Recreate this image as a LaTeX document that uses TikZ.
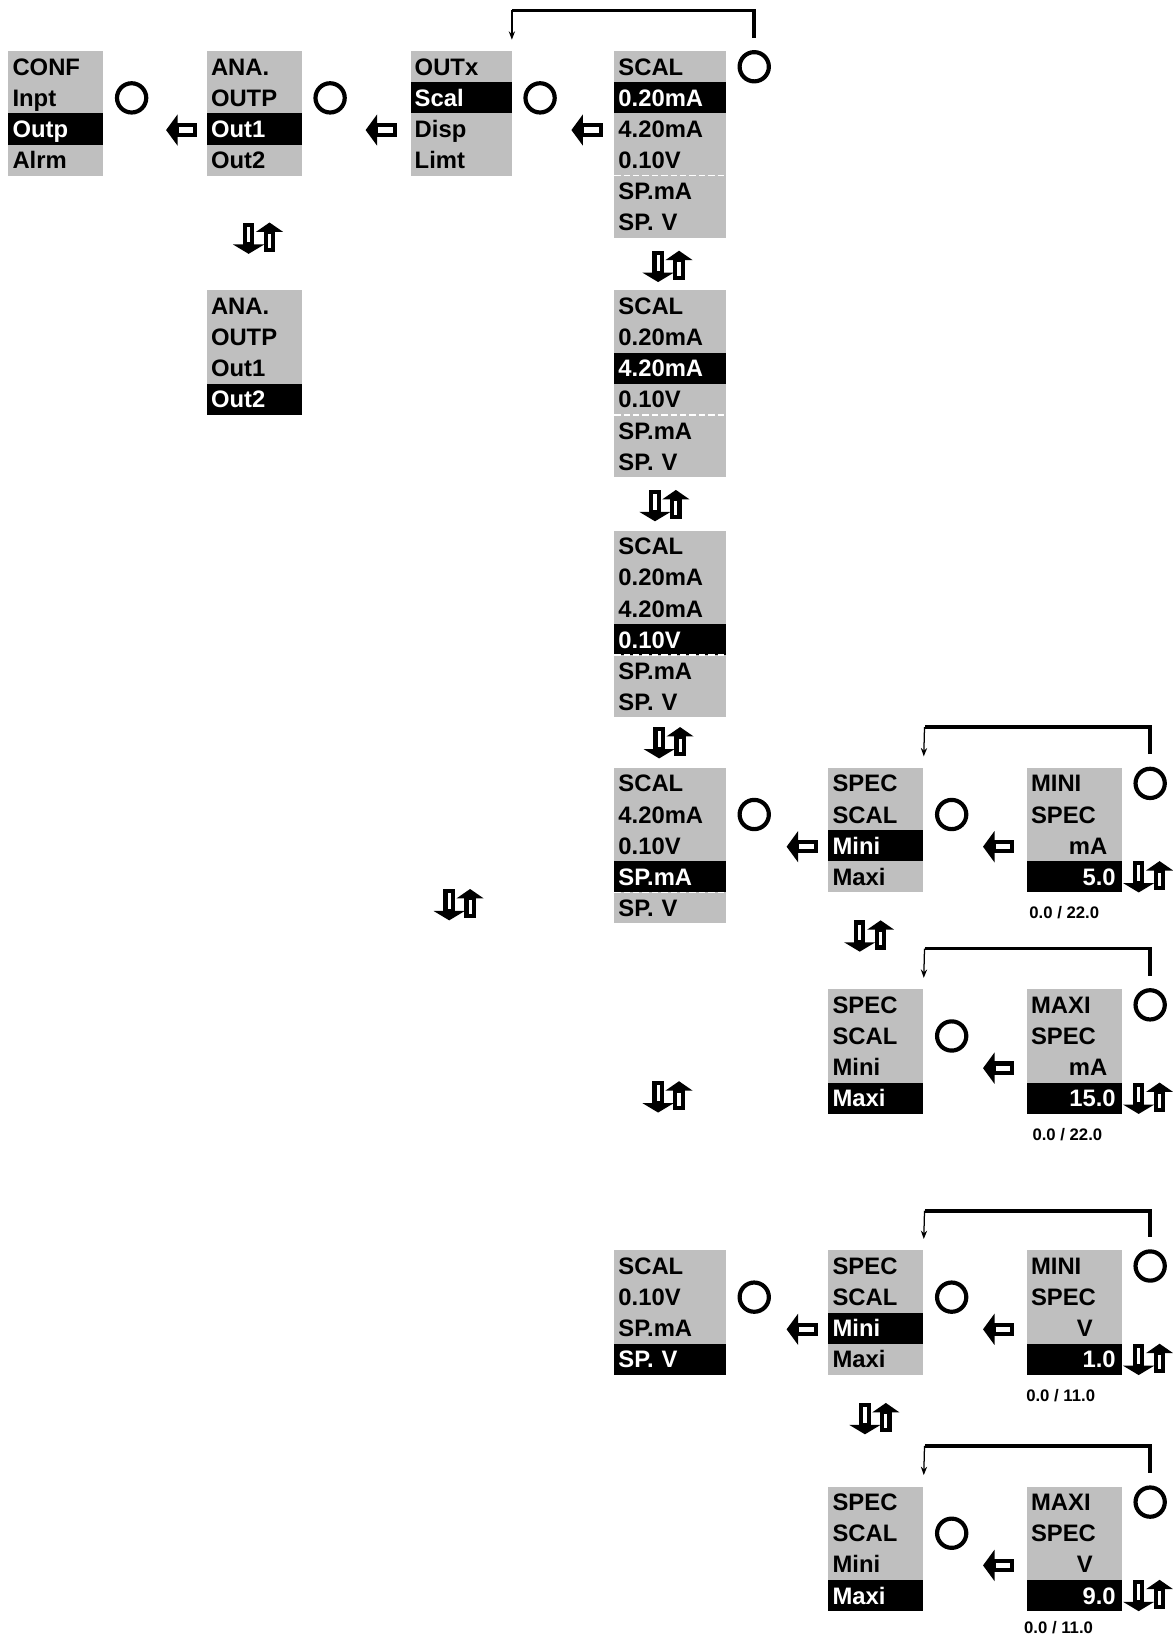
\documentclass[tikz,border=0pt]{standalone}
\usepackage{fontspec}
\setmainfont{Liberation Sans}
\usepackage{tikz}
\usetikzlibrary{arrows.meta, positioning}
\definecolor{menugray}{RGB}{191,191,191}
\tikzset{
  menu item/.style={
    rectangle, fill=menugray, text=black,
    text width=41.5pt, minimum height=14.9pt,
    text height=8.2pt, text depth=0pt,
    inner xsep=2pt, inner ysep=0pt, outer sep=0pt,
    align=left, font=\bfseries\fontsize{11.4pt}{13pt}\selectfont
  },
  menu sel/.style={
    menu item, fill=black, text=white
  },
  menu mid/.style={text width=44.5pt},
  menu wide/.style={text width=49.5pt},
  menu value/.style={align=right},
  menu ok/.style={
    circle, draw=black, line width=2pt, minimum size=14pt, inner sep=0pt
  },
  menu loop/.style={
    draw=black, line width=1.7pt, shorten <=6pt
  },
  menu loop arrow/.style={
    -{Stealth[length=4pt, width=3pt]}, draw=black, line width=0.6pt,
    shorten >=5.5pt
  },
  menu dash/.style={
    draw=white, line width=0.7pt, dash pattern=on 3pt off 1.5pt
  },
  menu range/.style={
    font=\bfseries\fontsize{8pt}{9pt}\selectfont, inner sep=0pt
  },
  menu back/.pic={
    \fill (-15,0) -- (-4,-15) -- (-4,15) -- cycle;
    \draw[line width=2pt, fill=white] (-5,-4.5) rectangle (13,4.5);
  },
  menu updown/.pic={
    \draw[line width=2pt, fill=white] (-13.5,-13) rectangle (-6.5,6);
    \fill (-25,6) -- (5,6) -- (-10,15) -- cycle;
    \draw[line width=2pt, fill=white] (6.5,-6) rectangle (13.5,11);
    \fill (-3,-6) -- (23,-6) -- (10,-15) -- cycle;
  }
}

\begin{document}
\begin{tikzpicture}[x=0.5pt, y=-0.5pt]
  \useasboundingbox (0,0) rectangle (1122,1568);

  \node[menu item, anchor=north west] (conf-1) at (8,49) {CONF};
  \node[menu item, below=0pt of conf-1] (conf-2) {Inpt};
  \node[menu sel, below=0pt of conf-2] (conf-3) {Outp};
  \node[menu item, below=0pt of conf-3] (conf-4) {Alrm};

  \node[menu item, anchor=north west] (anaA-1) at (198,49) {ANA.};
  \node[menu item, below=0pt of anaA-1] (anaA-2) {OUTP};
  \node[menu sel, below=0pt of anaA-2] (anaA-3) {Out1};
  \node[menu item, below=0pt of anaA-3] (anaA-4) {Out2};

  \node[menu item, menu mid, anchor=north west] (outx-1) at (393,49) {OUTx};
  \node[menu sel, menu mid, below=0pt of outx-1] (outx-2) {Scal};
  \node[menu item, menu mid, below=0pt of outx-2] (outx-3) {Disp};
  \node[menu item, menu mid, below=0pt of outx-3] (outx-4) {Limt};

  \node[menu item, menu wide, anchor=north west] (scalA-1) at (588,49) {SCAL};
  \node[menu sel, menu wide, below=0pt of scalA-1] (scalA-2) {0.20mA};
  \node[menu item, menu wide, below=0pt of scalA-2] (scalA-3) {4.20mA};
  \node[menu item, menu wide, below=0pt of scalA-3] (scalA-4) {0.10V};
  \node[menu item, menu wide, below=0pt of scalA-4] (scalA-5) {SP.mA};
  \node[menu item, menu wide, below=0pt of scalA-5] (scalA-6) {SP. V};

  \node[menu item, anchor=north west] (anaB-1) at (198,278) {ANA.};
  \node[menu item, below=0pt of anaB-1] (anaB-2) {OUTP};
  \node[menu item, below=0pt of anaB-2] (anaB-3) {Out1};
  \node[menu sel, below=0pt of anaB-3] (anaB-4) {Out2};

  \node[menu item, menu wide, anchor=north west] (scalB-1) at (588,278) {SCAL};
  \node[menu item, menu wide, below=0pt of scalB-1] (scalB-2) {0.20mA};
  \node[menu sel, menu wide, below=0pt of scalB-2] (scalB-3) {4.20mA};
  \node[menu item, menu wide, below=0pt of scalB-3] (scalB-4) {0.10V};
  \node[menu item, menu wide, below=0pt of scalB-4] (scalB-5) {SP.mA};
  \node[menu item, menu wide, below=0pt of scalB-5] (scalB-6) {SP. V};

  \node[menu item, menu wide, anchor=north west] (scalC-1) at (588,508) {SCAL};
  \node[menu item, menu wide, below=0pt of scalC-1] (scalC-2) {0.20mA};
  \node[menu item, menu wide, below=0pt of scalC-2] (scalC-3) {4.20mA};
  \node[menu sel, menu wide, below=0pt of scalC-3] (scalC-4) {0.10V};
  \node[menu item, menu wide, below=0pt of scalC-4] (scalC-5) {SP.mA};
  \node[menu item, menu wide, below=0pt of scalC-5] (scalC-6) {SP. V};

  \node[menu item, menu wide, anchor=north west] (scalD-1) at (588,735) {SCAL};
  \node[menu item, menu wide, below=0pt of scalD-1] (scalD-2) {4.20mA};
  \node[menu item, menu wide, below=0pt of scalD-2] (scalD-3) {0.10V};
  \node[menu sel, menu wide, below=0pt of scalD-3] (scalD-4) {SP.mA};
  \node[menu item, menu wide, below=0pt of scalD-4] (scalD-5) {SP. V};

  \node[menu item, anchor=north west] (specA-1) at (793,735) {SPEC};
  \node[menu item, below=0pt of specA-1] (specA-2) {SCAL};
  \node[menu sel, below=0pt of specA-2] (specA-3) {Mini};
  \node[menu item, below=0pt of specA-3] (specA-4) {Maxi};

  \node[menu item, anchor=north west] (miniA-1) at (983,735) {MINI};
  \node[menu item, below=0pt of miniA-1] (miniA-2) {SPEC};
  \node[menu item, menu value, below=0pt of miniA-2] (miniA-3) {mA\hspace*{5pt}};
  \node[menu sel, menu value, below=0pt of miniA-3] (miniA-4) {5.0\hspace*{1pt}};

  \node[menu item, anchor=north west] (specB-1) at (793,947) {SPEC};
  \node[menu item, below=0pt of specB-1] (specB-2) {SCAL};
  \node[menu item, below=0pt of specB-2] (specB-3) {Mini};
  \node[menu sel, below=0pt of specB-3] (specB-4) {Maxi};

  \node[menu item, anchor=north west] (maxiA-1) at (983,947) {MAXI};
  \node[menu item, below=0pt of maxiA-1] (maxiA-2) {SPEC};
  \node[menu item, menu value, below=0pt of maxiA-2] (maxiA-3) {mA\hspace*{5pt}};
  \node[menu sel, menu value, below=0pt of maxiA-3] (maxiA-4) {15.0\hspace*{1pt}};

  \node[menu item, menu wide, anchor=north west] (scalE-1) at (588,1197) {SCAL};
  \node[menu item, menu wide, below=0pt of scalE-1] (scalE-2) {0.10V};
  \node[menu item, menu wide, below=0pt of scalE-2] (scalE-3) {SP.mA};
  \node[menu sel, menu wide, below=0pt of scalE-3] (scalE-4) {SP. V};

  \node[menu item, anchor=north west] (specC-1) at (793,1197) {SPEC};
  \node[menu item, below=0pt of specC-1] (specC-2) {SCAL};
  \node[menu sel, below=0pt of specC-2] (specC-3) {Mini};
  \node[menu item, below=0pt of specC-3] (specC-4) {Maxi};

  \node[menu item, anchor=north west] (miniB-1) at (983,1197) {MINI};
  \node[menu item, below=0pt of miniB-1] (miniB-2) {SPEC};
  \node[menu item, menu value, below=0pt of miniB-2] (miniB-3) {V\hspace*{12pt}};
  \node[menu sel, menu value, below=0pt of miniB-3] (miniB-4) {1.0\hspace*{1pt}};

  \node[menu item, anchor=north west] (specD-1) at (793,1423) {SPEC};
  \node[menu item, below=0pt of specD-1] (specD-2) {SCAL};
  \node[menu item, below=0pt of specD-2] (specD-3) {Mini};
  \node[menu sel, below=0pt of specD-3] (specD-4) {Maxi};

  \node[menu item, anchor=north west] (maxiB-1) at (983,1423) {MAXI};
  \node[menu item, below=0pt of maxiB-1] (maxiB-2) {SPEC};
  \node[menu item, menu value, below=0pt of maxiB-2] (maxiB-3) {V\hspace*{12pt}};
  \node[menu sel, menu value, below=0pt of maxiB-3] (maxiB-4) {9.0\hspace*{1pt}};

  \draw[menu dash] (scalA-4.south west) -- (scalA-4.south east);
  \draw[menu dash] (scalB-4.south west) -- (scalB-4.south east);
  \draw[menu dash] (scalC-4.south west) -- (scalC-4.south east);
  \draw[menu dash] (scalD-4.south west) -- (scalD-4.south east);

  \node[menu ok, right=5.5pt of conf-2] (okA) {};
  \node[menu ok, right=5.5pt of anaA-2] (okB) {};
  \node[menu ok, right=5.5pt of outx-2] (okC) {};
  \node[menu ok, right=5.5pt of scalA-1] (okD) {};
  \node[menu ok, right=5.5pt of scalD-2] (okE) {};
  \node[menu ok, right=5.5pt of specA-2] (okF) {};
  \node[menu ok, right=5.5pt of miniA-1] (okG) {};
  \node[menu ok, right=5.5pt of specB-2] (okH) {};
  \node[menu ok, right=5.5pt of maxiA-1] (okI) {};
  \node[menu ok, right=5.5pt of scalE-2] (okJ) {};
  \node[menu ok, right=5.5pt of specC-2] (okK) {};
  \node[menu ok, right=5.5pt of miniB-1] (okL) {};
  \node[menu ok, right=5.5pt of specD-2] (okM) {};
  \node[menu ok, right=5.5pt of maxiB-1] (okN) {};

  \path (anaA-3.west) ++(-24,1) pic {menu back};
  \path (outx-3.west) ++(-28,1) pic {menu back};
  \path (scalA-3.west) ++(-26,1) pic {menu back};
  \path (specA-3.west) ++(-25,1) pic {menu back};
  \path (miniA-3.west) ++(-27,1) pic {menu back};
  \path (maxiA-3.west) ++(-27,1) pic {menu back};
  \path (specC-3.west) ++(-25,1) pic {menu back};
  \path (miniB-3.west) ++(-27,1) pic {menu back};
  \path (maxiB-3.west) ++(-27,1) pic {menu back};

  \pic at (248,228) {menu updown};
  \pic at (640,255) {menu updown};
  \pic at (637,484) {menu updown};
  \pic at (641,711) {menu updown};
  \pic at (440,866) {menu updown};
  \pic at (833,896) {menu updown};
  \pic at (640,1050) {menu updown};
  \pic at (838,1358) {menu updown};
  \path (miniA-4.east) ++(26,0) pic {menu updown};
  \path (maxiA-4.east) ++(26,0) pic {menu updown};
  \path (miniB-4.east) ++(26,0) pic {menu updown};
  \path (maxiB-4.east) ++(26,0) pic {menu updown};

  \node[menu range, anchor=west] (rangeA) at (985,874) {0.0 / 22.0};
  \node[menu range, anchor=west] (rangeB) at (988,1086) {0.0 / 22.0};
  \node[menu range, anchor=west] (rangeC) at (982,1336) {0.0 / 11.0};
  \node[menu range, anchor=west] (rangeD) at (980,1558) {0.0 / 11.0};

  \coordinate (loopA) at (490,10);
  \coordinate (loopB) at (885,696);
  \coordinate (loopC) at (885,908);
  \coordinate (loopD) at (885,1159);
  \coordinate (loopE) at (885,1384);

  \draw[menu loop] (okD.north) |- (loopA);
  \draw[menu loop arrow] (loopA) -- (outx-1.north east);
  \draw[menu loop] (okG.north) |- (loopB);
  \draw[menu loop arrow] (loopB) -- (specA-1.north east);
  \draw[menu loop] (okI.north) |- (loopC);
  \draw[menu loop arrow] (loopC) -- (specB-1.north east);
  \draw[menu loop] (okL.north) |- (loopD);
  \draw[menu loop arrow] (loopD) -- (specC-1.north east);
  \draw[menu loop] (okN.north) |- (loopE);
  \draw[menu loop arrow] (loopE) -- (specD-1.north east);
\end{tikzpicture}
\end{document}
